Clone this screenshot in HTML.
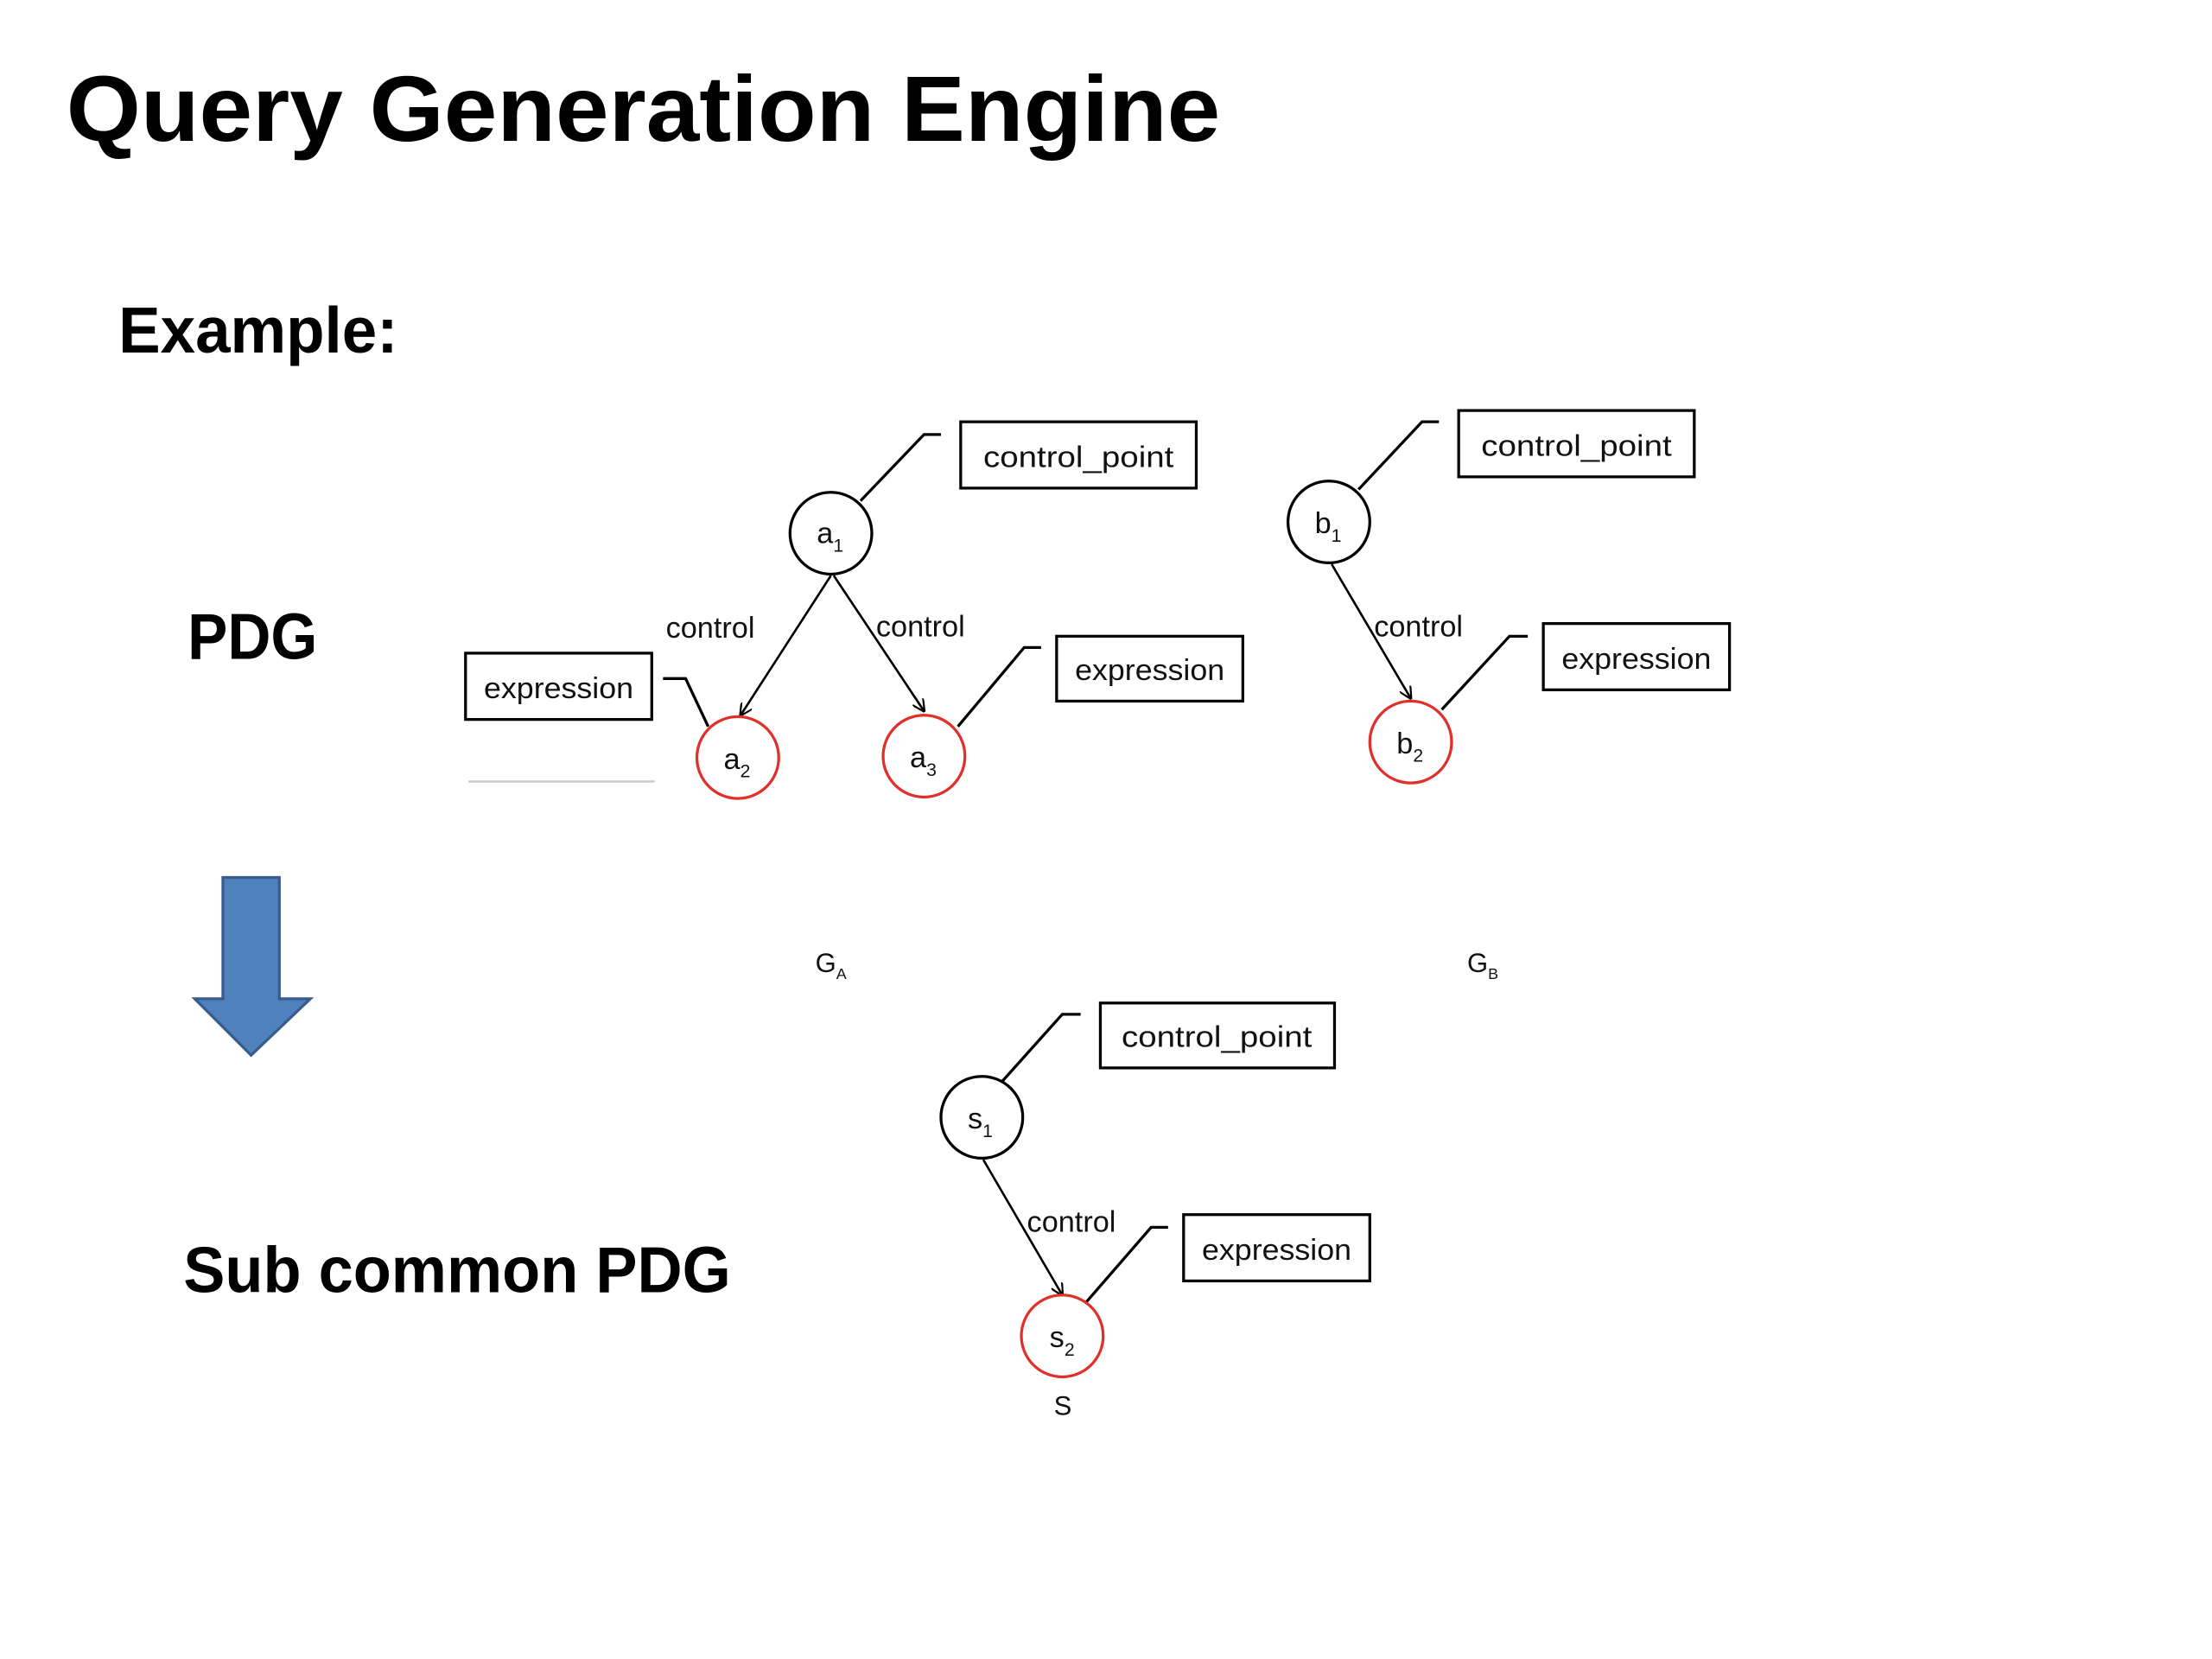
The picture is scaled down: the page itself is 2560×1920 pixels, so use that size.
<!DOCTYPE html>
<html><head><meta charset="utf-8"><style>html,body{margin:0;padding:0;background:#fff}svg{display:block}</style></head>
<body>
<svg width="2560" height="1920" viewBox="0 0 1568 1176" xmlns="http://www.w3.org/2000/svg" font-family="Liberation Sans, sans-serif">
<defs><marker id="ah" viewBox="0 0 10 10" refX="9" refY="5" markerWidth="9" markerHeight="9" orient="auto" markerUnits="userSpaceOnUse"><path d="M0,0 L10,5 L0,10" fill="none" stroke="#000" stroke-width="1.5"/></marker></defs>
<text x="47" y="100" font-size="66" font-weight="bold" textLength="818" lengthAdjust="spacingAndGlyphs">Query Generation Engine</text>
<text x="84" y="250" font-size="46" font-weight="bold" textLength="198" lengthAdjust="spacingAndGlyphs">Example:</text>
<text x="133" y="467" font-size="46" font-weight="bold" textLength="92" lengthAdjust="spacingAndGlyphs">PDG</text>
<text x="130" y="916" font-size="46" font-weight="bold" textLength="388" lengthAdjust="spacingAndGlyphs">Sub common PDG</text>
<path d="M158,622 H198 V708 H220 L178,748 L138,708 H158 Z" fill="#4F81BD" stroke="#385D8A" stroke-width="2"/>
<line x1="332" y1="554" x2="464" y2="554" stroke="#ccc" stroke-width="1.5"/>
<g fill="none" stroke="#000" stroke-width="2">
<rect x="681" y="299" width="167" height="47"/><rect x="330" y="463" width="132" height="47"/><rect x="749" y="451" width="132" height="46"/>
<rect x="1034" y="291" width="167" height="47"/><rect x="1094" y="442" width="132" height="47"/>
<rect x="780" y="711" width="166" height="46"/><rect x="839" y="861" width="132" height="47"/>
<polyline points="610,355 655,308 667,308"/><polyline points="502,515 486,481 470,481"/><polyline points="679,515 726,459 738,459"/>
<polyline points="963,347 1008,299 1020,299"/><polyline points="1022,503 1070,451 1083,451"/>
<polyline points="710,767 753,719 766,719"/><polyline points="770,923 816,870 828,870"/>
</g>
<g stroke="#000" stroke-width="1.6" marker-end="url(#ah)">
<line x1="589" y1="408" x2="525" y2="507"/><line x1="591" y1="408" x2="655" y2="504"/>
<line x1="944" y1="400" x2="1000" y2="495"/><line x1="697" y1="822" x2="753" y2="918"/>
</g>
<g fill="#fff" stroke-width="2">
<circle cx="589" cy="378" r="29" stroke="#000"/><circle cx="523" cy="537" r="29" stroke="#e0302a"/><circle cx="655" cy="536" r="29" stroke="#e0302a"/>
<circle cx="942" cy="370" r="29" stroke="#000"/><circle cx="1000" cy="526" r="29" stroke="#e0302a"/>
<circle cx="696" cy="792" r="29" stroke="#000"/><circle cx="753" cy="947" r="29" stroke="#e0302a"/>
</g>
<g font-size="21" fill="#111">
<text x="697" y="331" textLength="135" lengthAdjust="spacingAndGlyphs">control_point</text><text x="1050" y="323" textLength="135" lengthAdjust="spacingAndGlyphs">control_point</text><text x="795" y="742" textLength="135" lengthAdjust="spacingAndGlyphs">control_point</text>
<text x="343" y="495" textLength="106" lengthAdjust="spacingAndGlyphs">expression</text><text x="762" y="482" textLength="106" lengthAdjust="spacingAndGlyphs">expression</text><text x="1107" y="474" textLength="106" lengthAdjust="spacingAndGlyphs">expression</text><text x="852" y="893" textLength="106" lengthAdjust="spacingAndGlyphs">expression</text>
<text x="472" y="452">control</text><text x="621" y="451">control</text><text x="974" y="451">control</text><text x="728" y="873">control</text>
<text x="579" y="385">a<tspan font-size="13" dy="6">1</tspan></text>
<text x="513" y="545">a<tspan font-size="13" dy="6">2</tspan></text>
<text x="645" y="544">a<tspan font-size="13" dy="6">3</tspan></text>
<text x="932" y="378">b<tspan font-size="13" dy="6">1</tspan></text>
<text x="990" y="534">b<tspan font-size="13" dy="6">2</tspan></text>
<text x="686" y="800">s<tspan font-size="13" dy="6">1</tspan></text>
<text x="744" y="955">s<tspan font-size="13" dy="6">2</tspan></text>
<text x="747" y="1003" font-size="19">S</text>
<text x="578" y="689" font-size="19">G<tspan font-size="11" dy="5">A</tspan></text>
<text x="1040" y="689" font-size="19">G<tspan font-size="11" dy="5">B</tspan></text>
</g>
</svg>
</body></html>
